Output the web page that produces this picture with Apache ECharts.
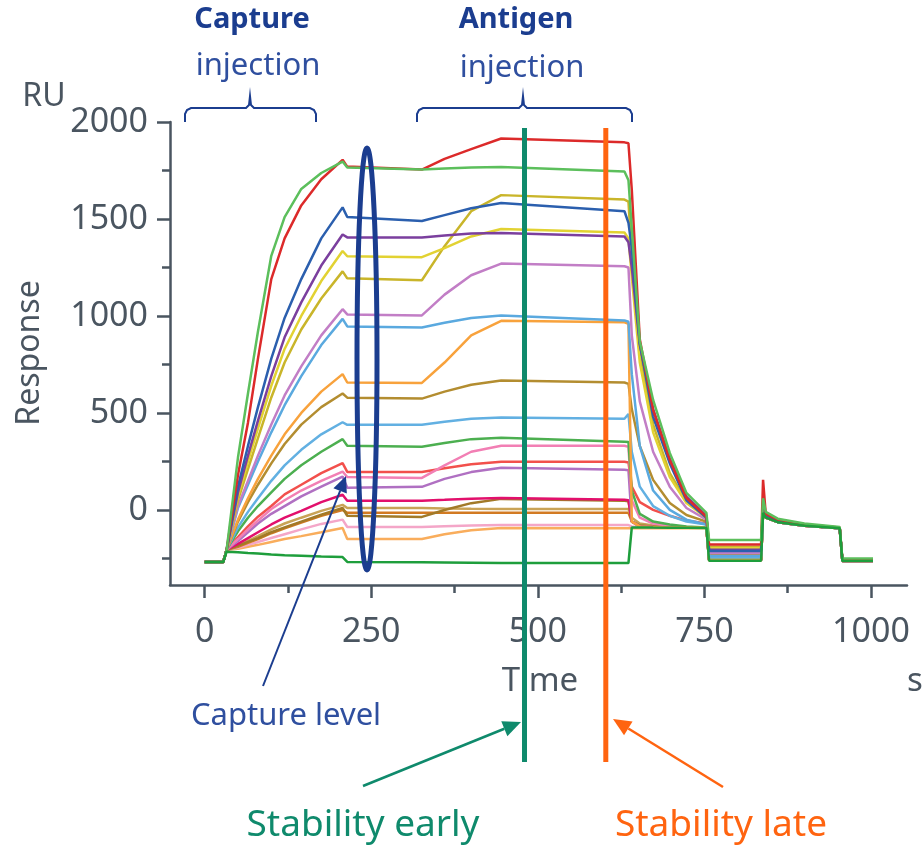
<!DOCTYPE html>
<html>
<head>
<meta charset="utf-8">
<script src="https://cdn.jsdelivr.net/npm/echarts@6/dist/echarts.min.js"></script>
<style>
html, body { margin: 0; padding: 0; background: #fff; }
#main { width: 922px; height: 846px; }
</style>
</head>
<body>
<div id="main"></div>
<script>
var chartDom = document.getElementById('main');
var myChart = echarts.init(chartDom);
var option;

// sample times (s) shared by all curves
var times = [0, 28, 33, 50, 65, 80, 100, 120, 145, 175, 207, 214, 326, 360, 400, 445, 630, 636, 641, 653, 673, 698, 723, 753, 757, 835, 838, 842, 860, 900, 953, 957, 1003];

// response (RU) per curve
var lightOrange = [-268, -268, -205, -200, -190, -180, -165, -150, -135, -115, -93, -150, -150, -125, -105, -93, -95, -95, -95, -95, -95, -95, -95, -95, -262, -262, -15, -40, -63, -81, -95, -263, -263];
var lightPink = [-268, -268, -205, -195, -180, -165, -145, -125, -100, -72, -50, -88, -88, -84, -80, -78, -78, -78, -85, -88, -90, -90, -91, -92, -260, -260, -15, -40, -63, -81, -95, -263, -263];
var orangeBrown = [-268, -268, -205, -190, -170, -150, -120, -95, -65, -30, 0, -15, -15, -15, -15, -15, -15, -15, -60, -80, -86, -89, -91, -92, -258, -258, -15, -40, -63, -81, -95, -263, -263];
var tan = [-268, -268, -205, -185, -160, -135, -100, -70, -40, -5, 26, 10, 10, 8, 6, 5, 5, 5, -40, -70, -80, -86, -90, -92, -258, -258, -15, -40, -63, -81, -95, -263, -263];
var brown = [-268, -268, -205, -185, -165, -145, -115, -90, -60, -25, 10, -30, -36, 0, 35, 57, 47, 45, -60, -80, -86, -89, -91, -92, -258, -258, -15, -40, -63, -81, -95, -263, -263];
var magenta = [-268, -268, -205, -175, -145, -115, -75, -40, -5, 40, 78, 47, 47, 52, 58, 62, 52, 50, -60, -85, -88, -90, -91, -92, -258, -258, -15, -40, -63, -81, -95, -263, -263];
var purple2 = [-268, -268, -205, -160, -115, -70, -20, 20, 70, 120, 172, 114, 119, 160, 195, 217, 207, 205, -60, -85, -88, -90, -91, -92, -258, -258, -15, -40, -63, -81, -95, -263, -263];
var red2 = [-268, -268, -205, -140, -85, -35, 20, 80, 130, 190, 241, 196, 196, 215, 235, 248, 248, 245, 120, 40, 0, -30, -55, -70, -248, -248, -12, -38, -62, -80, -94, -262, -262];
var pink = [-268, -268, -205, -150, -100, -55, 5, 50, 100, 150, 198, 170, 165, 230, 300, 331, 331, 325, 50, -40, -70, -82, -88, -90, -255, -255, -15, -40, -63, -81, -95, -263, -263];
var green2 = [-268, -268, -205, -110, -40, 20, 90, 160, 230, 300, 365, 331, 326, 345, 365, 372, 352, 350, 100, -20, -60, -75, -85, -90, -250, -250, -10, -38, -62, -80, -94, -262, -262];
var lightBlue2 = [-268, -268, -205, -90, -10, 60, 150, 230, 310, 390, 452, 439, 439, 455, 470, 476, 470, 495, 300, 120, 20, -30, -60, -75, -245, -245, -10, -38, -62, -80, -94, -262, -262];
var oliveBrown = [-268, -268, -205, -60, 40, 130, 240, 340, 440, 530, 600, 579, 574, 610, 645, 667, 657, 650, 520, 330, 155, 36, -26, -60, -232, -232, -5, -35, -60, -80, -94, -262, -262];
var orange = [-268, -268, -205, -50, 60, 160, 280, 390, 500, 610, 700, 657, 655, 760, 900, 975, 967, 960, -60, -85, -88, -90, -90, -92, -258, -258, -10, -38, -62, -80, -94, -262, -262];
var lightBlue = [-268, -268, -205, 10, 130, 250, 400, 540, 690, 850, 985, 946, 941, 965, 990, 1003, 977, 970, 700, 330, 100, 0, -50, -75, -238, -238, -5, -35, -62, -80, -94, -262, -262];
var pinkPurple = [-268, -268, -205, 20, 150, 280, 440, 590, 740, 900, 1035, 1008, 1003, 1110, 1210, 1270, 1256, 1250, 900, 560, 300, 120, 10, -50, -222, -222, 0, -32, -60, -80, -94, -260, -260];
var olive = [-268, -268, -205, 50, 210, 370, 580, 760, 930, 1090, 1230, 1194, 1184, 1360, 1540, 1623, 1600, 1590, 1300, 800, 440, 190, 45, -35, -190, -190, 15, -28, -56, -77, -92, -258, -258];
var yellow = [-268, -268, -205, 70, 250, 420, 640, 830, 1000, 1180, 1335, 1308, 1303, 1350, 1410, 1448, 1430, 1400, 1200, 760, 400, 170, 36, -40, -198, -198, 10, -30, -58, -78, -93, -260, -260];
var purple = [-268, -268, -205, 90, 280, 460, 690, 890, 1070, 1260, 1420, 1405, 1405, 1415, 1425, 1428, 1410, 1380, 1250, 850, 520, 265, 68, -30, -205, -205, 20, -25, -55, -75, -92, -258, -258];
var blue = [-268, -268, -205, 120, 330, 530, 780, 990, 1190, 1400, 1560, 1510, 1490, 1520, 1555, 1582, 1540, 1480, 1350, 860, 480, 240, 50, -40, -212, -212, 30, -25, -55, -75, -92, -258, -258];
var red = [-268, -268, -205, 180, 450, 780, 1190, 1400, 1570, 1705, 1805, 1770, 1755, 1810, 1860, 1915, 1895, 1890, 1650, 880, 516, 258, 62, -36, -178, -178, 155, -20, -50, -75, -90, -255, -255];
var green = [-268, -268, -205, 270, 600, 920, 1310, 1510, 1655, 1737, 1796, 1765, 1755, 1760, 1765, 1768, 1745, 1700, 1450, 870, 567, 294, 88, -15, -155, -155, 60, -10, -45, -70, -88, -250, -250];
var darkGreen = [-268, -268, -215, -218, -222, -225, -230, -233, -236, -240, -243, -268, -270, -271, -272, -273, -274, -274, -90, -90, -91, -92, -92, -93, -262, -262, -15, -40, -63, -81, -95, -263, -263];

var curves = [
    ['lightOrange', lightOrange, '#f9ad5c'],
    ['lightPink', lightPink, '#f4a6c8'],
    ['orangeBrown', orangeBrown, '#d27a22'],
    ['tan', tan, '#c9a356'],
    ['brown', brown, '#a27a28'],
    ['magenta', magenta, '#e2106c'],
    ['purple2', purple2, '#b070c2'],
    ['red2', red2, '#f2504c'],
    ['pink', pink, '#f27fb4'],
    ['green2', green2, '#4caf50'],
    ['lightBlue2', lightBlue2, '#62b0e2'],
    ['oliveBrown', oliveBrown, '#b38d30'],
    ['orange', orange, '#f8a23c'],
    ['lightBlue', lightBlue, '#5aa9df'],
    ['pinkPurple', pinkPurple, '#c27ec6'],
    ['olive', olive, '#c9b52a'],
    ['yellow', yellow, '#e2d232'],
    ['purple', purple, '#7b3f9e'],
    ['blue', blue, '#2b5fae'],
    ['red', red, '#dc2a2a'],
    ['green', green, '#5cbf5c'],
    ['darkGreen', darkGreen, '#1e9e3c']
];

var majorX = [0, 250, 500, 750, 1000];
var minorX = [125, 375, 625, 875];
var majorY = [0, 500, 1000, 1500, 2000];
var minorY = [-250, 250, 750, 1250, 1750];

var axisColor = '#4a5560';
var font = 'Noto Sans';
var plain = function (v) { return String(v); };

var series = curves.map(function (c) {
    return {
        name: c[0],
        type: 'line',
        showSymbol: false,
        color: c[2],
        lineStyle: { width: 2.5, color: c[2] },
        data: times.map(function (t, i) { return [t, c[1][i]]; })
    };
});

option = {
    animation: false,
    grid: { left: 170, right: 15, top: 122, bottom: 261, outerBoundsMode: 'none' },
    xAxis: [
        {
            type: 'value', min: -52, max: 1054, position: 'bottom',
            splitLine: { show: false },
            axisLine: { onZero: false, lineStyle: { color: axisColor, width: 2.5 } },
            axisTick: { length: 13, lineStyle: { color: axisColor, width: 2.5 }, customValues: majorX },
            axisLabel: { customValues: majorX, formatter: plain, margin: 30, color: axisColor, fontSize: 34, fontFamily: font }
        },
        {
            type: 'value', min: -52, max: 1054, position: 'bottom',
            splitLine: { show: false },
            axisLine: { show: false, onZero: false },
            axisTick: { length: 8, lineStyle: { color: axisColor, width: 2.5 }, customValues: minorX },
            axisLabel: { show: false }
        }
    ],
    yAxis: [
        {
            type: 'value', min: -387, max: 2000, position: 'left',
            splitLine: { show: false },
            axisLine: { show: true, onZero: false, lineStyle: { color: axisColor, width: 2.5 } },
            axisTick: { show: true, length: 13, lineStyle: { color: axisColor, width: 2.5 }, customValues: majorY },
            axisLabel: { customValues: majorY, formatter: plain, margin: 22, color: axisColor, fontSize: 34, fontFamily: font }
        },
        {
            type: 'value', min: -387, max: 2000, position: 'left',
            splitLine: { show: false },
            axisLine: { show: false, onZero: false },
            axisTick: { show: true, length: 8, lineStyle: { color: axisColor, width: 2.5 }, customValues: minorY },
            axisLabel: { show: false }
        }
    ],
    series: series
};

myChart.setOption(option);

// annotations
function arrow(x1, y1, x2, y2, color, w, head) {
    var a = Math.atan2(y2 - y1, x2 - x1);
    var hx = x2 - head * Math.cos(a), hy = y2 - head * Math.sin(a);
    var px = Math.sin(a) * head * 0.45, py = -Math.cos(a) * head * 0.45;
    return [
        { type: 'line', shape: { x1: x1, y1: y1, x2: hx, y2: hy }, style: { stroke: color, lineWidth: w } },
        { type: 'polygon', shape: { points: [[x2, y2], [hx + px, hy + py], [hx - px, hy - py]] }, style: { fill: color } }
    ];
}
function label(text, x, y, color, size, weight, extra) {
    var el = {
        type: 'text', x: x, y: y,
        style: { text: text, fill: color, font: (weight || 'normal') + ' ' + size + 'px "' + font + '"', textAlign: 'center', textVerticalAlign: 'middle' }
    };
    if (extra) { for (var k in extra) el[k] = extra[k]; }
    return el;
}

var navy = '#1b3d8f', blueText = '#2f4f9f', teal = '#0f8a6c', orangeMark = '#ff6410';
var earlyX = myChart.convertToPixel({ xAxisIndex: 0 }, 480);
var lateX = myChart.convertToPixel({ xAxisIndex: 0 }, 602);

var graphics = [
    label('Capture', 252, 20, navy, 29, 'bold'),
    label('injection', 258, 66, blueText, 31),
    label('Antigen', 516, 20, navy, 29, 'bold'),
    label('injection', 522, 68, blueText, 31),
    { type: 'polyline', shape: { points: [[185, 122], [185, 114], [187, 110], [191, 108], [246, 108], [249, 105], [250, 96], [251, 105], [254, 108], [310, 108], [314, 110], [316, 114], [316, 122]] }, style: { stroke: navy, lineWidth: 2, fill: null } },
    { type: 'polyline', shape: { points: [[417, 122], [417, 114], [419, 110], [423, 108], [519, 108], [522, 105], [523, 96], [524, 105], [527, 108], [626, 108], [630, 110], [632, 114], [632, 122]] }, style: { stroke: navy, lineWidth: 2, fill: null } },
    label('RU', 44, 97, axisColor, 32),
    label('Response', 30, 353, axisColor, 32, 'normal', { rotation: Math.PI / 2 }),
    label('Time', 540, 682, axisColor, 33),
    { type: 'text', x: 907, y: 682, style: { text: 's', fill: axisColor, font: '33px "' + font + '"', textAlign: 'left', textVerticalAlign: 'middle' } },
    { type: 'ellipse', shape: { cx: 367, cy: 359, rx: 10, ry: 211 }, style: { stroke: navy, lineWidth: 5, fill: null } },
    { type: 'line', shape: { x1: earlyX, y1: 128, x2: earlyX, y2: 762 }, style: { stroke: teal, lineWidth: 5 } },
    { type: 'line', shape: { x1: lateX, y1: 128, x2: lateX, y2: 762 }, style: { stroke: orangeMark, lineWidth: 5 } },
    label('Capture level', 286, 716, blueText, 31),
    label('Stability early', 363, 825, teal, 37),
    label('Stability late', 721, 825, orangeMark, 37)
].concat(
    arrow(263, 686, 346, 476, navy, 2, 16),
    arrow(363, 786, 521, 722, teal, 2.5, 18),
    arrow(723, 787, 613, 719, orangeMark, 2.5, 18)
);
graphics.forEach(function (g) { g.z = 100; });

myChart.setOption({ graphic: { elements: graphics } });
</script>
</body>
</html>
